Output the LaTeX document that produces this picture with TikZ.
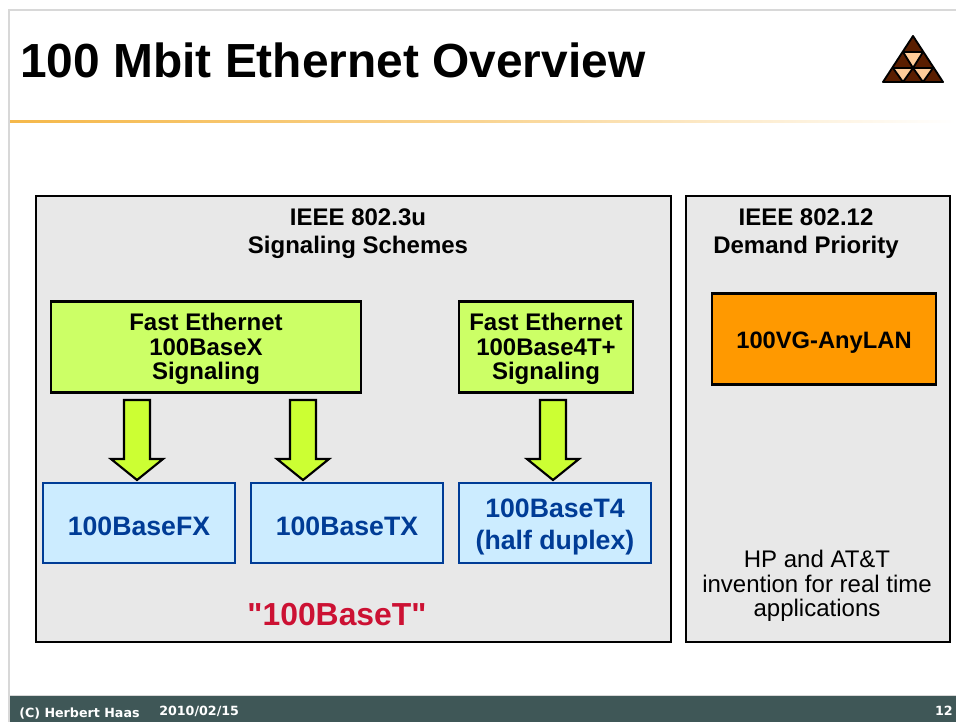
\documentclass[tikz,border=0pt]{standalone}
\usepackage{fontspec}
\setmainfont{Liberation Sans}
\newfontfamily\rawquotes{Liberation Sans}
\newfontfamily\footfont{DejaVu Sans}
\usetikzlibrary{calc}
\definecolor{panelgray}{HTML}{E8E8E8}
\definecolor{limefill}{HTML}{CCFF66}
\definecolor{arrowfill}{HTML}{CCFF33}
\definecolor{bluefill}{HTML}{CCECFF}
\definecolor{navyline}{HTML}{003C96}
\definecolor{footerbg}{HTML}{3F5757}
\definecolor{orangefill}{HTML}{FF9900}
\definecolor{crimson}{HTML}{CC1133}
\definecolor{pagegray}{HTML}{D8D8D8}
\definecolor{ruleorange}{HTML}{F5B84A}
\definecolor{darkbrown}{HTML}{5A1E00}
\definecolor{lightpeach}{HTML}{FFCC99}
\tikzset{
  x=0.75pt,y=-0.75pt,
  panel/.style={draw=black,line width=1.7pt,fill=panelgray},
  limebox/.style={draw=black,line width=1.7pt,fill=limefill,align=center,font=\fontsize{18}{18.5}\selectfont\bfseries,inner sep=0pt},
  bluebox/.style={draw=navyline,line width=1.3pt,fill=bluefill,align=center,text=navyline,font=\fontsize{20}{24}\selectfont\bfseries,inner sep=0pt},
  orangebox/.style={draw=black,line width=1.7pt,fill=orangefill,align=center,font=\fontsize{17.8}{20}\selectfont\bfseries,inner sep=0pt},
  head/.style={align=center,font=\fontsize{18}{21}\selectfont\bfseries,inner sep=0pt},
  plain/.style={align=center,font=\fontsize{18}{18.4}\selectfont,inner sep=0pt},
  blockarrow/.style={draw=black,line width=1.6pt,fill=arrowfill,line join=miter},
  foot/.style={text=white,font=\footfont\fontsize{9.5}{11}\selectfont\bfseries,inner sep=0pt},
  tri/.style={draw=black,line width=1.4pt,line join=round},
}
\newcommand{\blockarrowto}[1]{%
  \draw[blockarrow] (#1) -- ++(-26,-21) -- ++(13,0) -- ++(0,-59) -- ++(26,0) -- ++(0,59) -- ++(13,0) -- cycle;}
\begin{document}
\begin{tikzpicture}
\useasboundingbox (0,0) rectangle (956,722);
\fill[white] (0,0) rectangle (956,722);
% page frame
\draw[pagegray,line width=1pt] (9,722) -- (9,10) -- (956,10);
% title
\node[anchor=base west,inner sep=0pt,font=\fontsize{35.9}{36}\selectfont\bfseries] (title) at (20,77) {100 Mbit Ethernet Overview};
\shade[left color=ruleorange,right color=white,middle color=ruleorange!60!white] (10,120.5) rectangle (956,122);
% logo
\draw[tri,fill=darkbrown] (913,36) -- (943,82) -- (883,82) -- cycle;
\draw[tri,fill=lightpeach] (903,52) -- (923,52) -- (913,68) -- cycle;
\draw[tri,fill=lightpeach] (893,68) -- (913,68) -- (903,82) -- cycle;
\draw[tri,fill=lightpeach] (913,68) -- (933,68) -- (923,82) -- cycle;
% panels
\draw[panel] (36,196) rectangle (671,642);
\draw[panel] (686,196) rectangle (950,642);
\node[head] (h1) at (358,234) {IEEE 802.3u\\Signaling Schemes};
\node[head] (h2) at (806,234) {IEEE 802.12\\Demand Priority};
% boxes
\node[limebox,minimum width=310pt*0.75,minimum height=91pt*0.75] (x) at (206,347) {\rule{0pt}{16pt}Fast Ethernet\\100BaseX\\Signaling};
\node[limebox,minimum width=174pt*0.75,minimum height=91pt*0.75] (t4p) at (546,347) {\rule{0pt}{16pt}Fast Ethernet\\100Base4T+\\Signaling};
\node[orangebox,minimum width=224pt*0.75,minimum height=91pt*0.75] (vg) at (824,339) {\rule{0pt}{17.5pt}100VG-AnyLAN};
\node[bluebox,minimum width=192pt*0.75,minimum height=80pt*0.75] (fx) at (139,523) {\rule{0pt}{19pt}100BaseFX};
\node[bluebox,minimum width=192pt*0.75,minimum height=80pt*0.75] (tx) at (347,523) {\rule{0pt}{19pt}100BaseTX};
\node[bluebox,minimum width=192pt*0.75,minimum height=80pt*0.75] (t4) at (555,523) {\rule{0pt}{20.5pt}100BaseT4\\(half duplex)};
% arrows
\coordinate (a1) at (137,480);
\coordinate (a2) at (303,480);
\coordinate (a3) at (553,480);
\blockarrowto{a1}
\blockarrowto{a2}
\blockarrowto{a3}
% labels
\node[text=crimson,inner sep=0pt,font=\rawquotes\fontsize{23.9}{24}\selectfont\bfseries] (bt) at (337,615) {"100BaseT"};
\node[plain] (hp) at (817,586) {HP and AT\&T\\invention for real time\\applications};
% footer
\fill[footerbg] (10,695) rectangle (956,722);
\draw[pagegray,line width=0.5pt] (10,695) -- (956,695);
\node[foot,anchor=base west] (f1) at (19,717) {(C) Herbert Haas};
\node[foot,anchor=base west] (f2) at (159,715.5) {2010/02/15};
\node[foot,anchor=base east] (f3) at (953,715.5) {12};
\end{tikzpicture}
\end{document}
